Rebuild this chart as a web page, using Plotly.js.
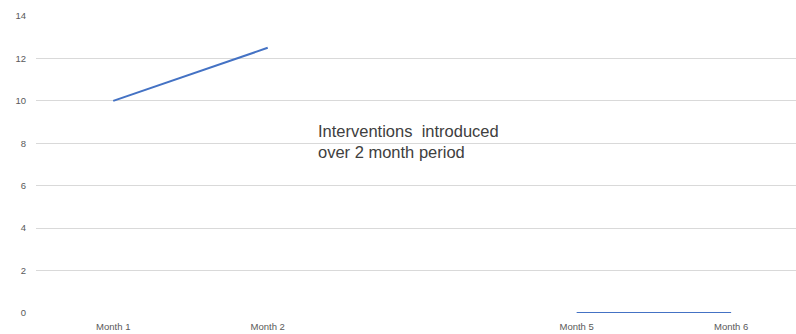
<!DOCTYPE html>
<html>
<head>
<meta charset="utf-8">
<script src="https://cdn.plot.ly/plotly-3.0.1.min.js"></script>
<style>html,body{margin:0;padding:0;background:#fff;}#chart{width:796px;height:334px;}</style>
</head>
<body>
<div id="chart"></div>
<script>
var categories = ["Month 1", "Month 2", " ", "Month 5", "Month 6"];
var values = [10, 12.5, null, 0, 0];
var yTicks = [0, 2, 4, 6, 8, 10, 12, 14];
var noteLines = ["Interventions  introduced", "over 2 month period"];

var trace = {
  x: categories,
  y: values,
  type: "scatter",
  mode: "lines",
  connectgaps: false,
  line: {color: "#4472C4", width: 2},
  hoverinfo: "skip"
};

var noteFont = {size: 16.5, color: "#404040", family: "Liberation Sans, Arial, sans-serif"};

var layout = {
  width: 796,
  height: 334,
  margin: {l: 36, r: 0, t: 16, b: 21, pad: 0},
  paper_bgcolor: "#ffffff",
  plot_bgcolor: "#ffffff",
  showlegend: false,
  font: {family: "Liberation Sans, Arial, sans-serif", color: "#595959"},
  xaxis: {
    type: "category",
    categoryorder: "array",
    categoryarray: categories,
    range: [-0.5, 4.42],
    showgrid: false,
    zeroline: false,
    showline: false,
    ticks: "",
    tickfont: {size: 9.5, color: "#595959"},
    ticklabelstandoff: 6,
    fixedrange: true
  },
  yaxis: {
    range: [0, 14],
    tickvals: yTicks,
    ticktext: yTicks.map(String),
    showgrid: true,
    gridcolor: "#d9d9d9",
    gridwidth: 1,
    zeroline: false,
    showline: false,
    ticks: "",
    tickfont: {size: 9.5, color: "#595959"},
    ticklabelstandoff: 9,
    fixedrange: true
  },
  annotations: [
    {xref: "paper", yref: "paper", x: 0.369, y: 0.613, xanchor: "left", yanchor: "middle",
     text: noteLines[0], showarrow: false, font: noteFont},
    {xref: "paper", yref: "paper", x: 0.369, y: 0.541, xanchor: "left", yanchor: "middle",
     text: noteLines[1], showarrow: false, font: noteFont}
  ]
};

Plotly.newPlot("chart", [trace], layout, {displayModeBar: false, staticPlot: true});
</script>
</body>
</html>
